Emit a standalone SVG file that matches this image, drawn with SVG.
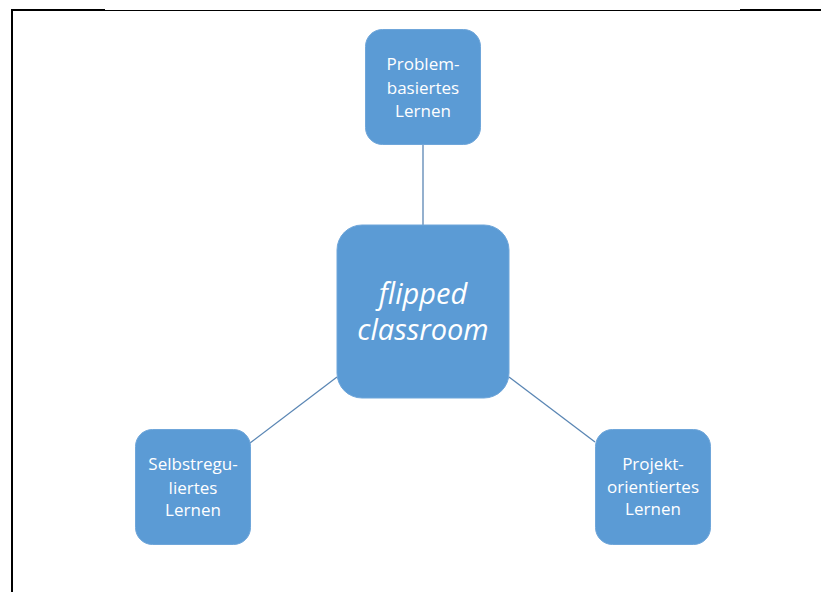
<svg xmlns="http://www.w3.org/2000/svg" width="821" height="592" viewBox="0 0 821 592">
<style>
.box{fill:#5B9BD5;stroke:#6FA6DA;stroke-width:1}
.t{fill:#ffffff;font-family:"Open Sans","Noto Sans",sans-serif;font-size:17px;text-anchor:middle}
.c{fill:#ffffff;font-family:"Open Sans","Noto Sans",sans-serif;font-size:29px;font-style:italic;text-anchor:middle}
.con{stroke:#5A86B4;stroke-width:1.3;fill:none}
</style>
<rect width="821" height="592" fill="#ffffff"/>
<g id="frame">
<line x1="11" y1="10" x2="105" y2="10" stroke="#000" stroke-width="2"/>
<line x1="105" y1="10.5" x2="740" y2="10.5" stroke="#000" stroke-width="1"/>
<line x1="740" y1="10" x2="821" y2="10" stroke="#000" stroke-width="2"/>
<line x1="12" y1="9" x2="12" y2="592" stroke="#000" stroke-width="2"/>
</g>
<g id="connectors">
<line class="con" x1="423" y1="144" x2="423" y2="226"/>
<line class="con" x1="250" y1="443" x2="337" y2="377"/>
<line class="con" x1="509" y1="377" x2="595" y2="442"/>
</g>
<g id="center">
<rect class="box" x="337" y="225" width="172" height="173" rx="25" ry="25"/>
<text class="c" x="423" y="304">flipped</text>
<text class="c" x="423" y="340">classroom</text>
</g>
<g id="top">
<rect class="box" x="365.5" y="29.5" width="115" height="115" rx="17" ry="17"/>
<text class="t" x="423" y="70">Problem-</text>
<text class="t" x="423" y="93.5">basiertes</text>
<text class="t" x="423" y="116.5">Lernen</text>
</g>
<g id="left">
<rect class="box" x="135.5" y="429.5" width="115" height="115" rx="17" ry="17"/>
<text class="t" x="193" y="470">Selbstregu-</text>
<text class="t" x="193" y="493.5">liertes</text>
<text class="t" x="193" y="516">Lernen</text>
</g>
<g id="right">
<rect class="box" x="595.5" y="429.5" width="115" height="115" rx="17" ry="17"/>
<text class="t" x="653" y="469.5">Projekt-</text>
<text class="t" x="653" y="493">orientiertes</text>
<text class="t" x="653" y="515">Lernen</text>
</g>
</svg>
